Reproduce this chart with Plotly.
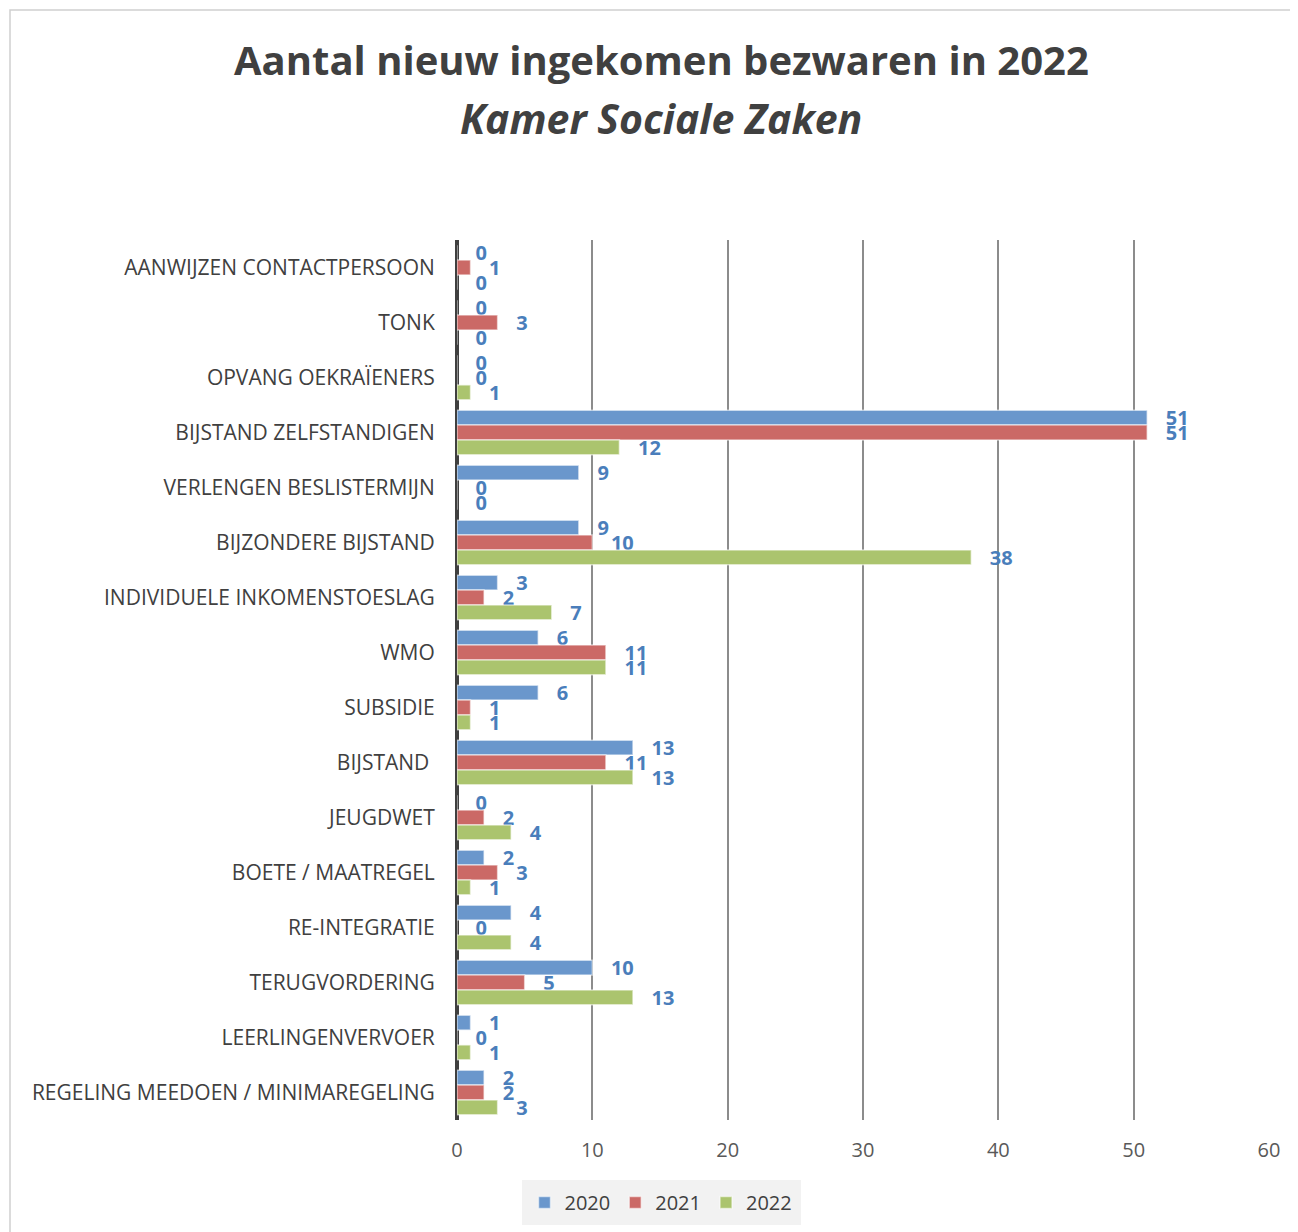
import plotly.graph_objects as go

categories = [
    "AANWIJZEN CONTACTPERSOON", "TONK", "OPVANG OEKRAÏENERS", "BIJSTAND ZELFSTANDIGEN",
    "VERLENGEN BESLISTERMIJN", "BIJZONDERE BIJSTAND", "INDIVIDUELE INKOMENSTOESLAG", "WMO",
    "SUBSIDIE", "BIJSTAND ", "JEUGDWET", "BOETE / MAATREGEL", "RE-INTEGRATIE",
    "TERUGVORDERING", "LEERLINGENVERVOER", "REGELING MEEDOEN / MINIMAREGELING",
]
v2020 = [0, 0, 0, 51, 9, 9, 3, 6, 6, 13, 0, 2, 4, 10, 1, 2]
v2021 = [1, 3, 0, 51, 0, 10, 2, 11, 1, 11, 2, 3, 0, 5, 0, 2]
v2022 = [0, 0, 1, 12, 0, 38, 7, 11, 1, 13, 4, 1, 4, 13, 1, 3]
years = ["2020", "2021", "2022"]
colors = ["#6A97CC", "#CB6966", "#ABC46E"]
x_ticks = [0, 10, 20, 30, 40, 50, 60]

OFF = 8  # page body margin
W, H = 1298 - OFF, 1232 - OFF
ML, MR, MT, MB = 457 - OFF, 29, 240 - OFF, 112
PW, PH = W - ML - MR, H - MT - MB

def px_x(p):
    return (p - OFF - ML) / PW

def px_y(p):
    return (H - MB - (p - OFF)) / PH

fig = go.Figure()
pad = "\u00a0\u00a0\u00a0"
for name, vals, col in zip(years, [v2020, v2021, v2022], colors):
    fig.add_trace(go.Bar(
        y=categories, x=vals, name=name, orientation="h",
        marker=dict(color=col, line=dict(color="rgba(255,255,255,0.55)", width=1.5)),
        text=[pad + str(v) for v in vals], textposition="outside",
        constraintext="none", cliponaxis=False,
        outsidetextfont=dict(family="Open Sans", size=20, color="#4A7EBB", weight="bold"),
    ))

fig.update_layout(
    width=W, height=H, barmode="group", bargap=0.19, bargroupgap=0,
    margin=dict(l=ML, r=MR, t=MT, b=MB, autoexpand=False),
    paper_bgcolor="white", plot_bgcolor="white",
    font=dict(family="Open Sans", color="#404040"),
    xaxis=dict(range=[0, 60], tickvals=x_ticks, showgrid=True, gridcolor="#8c8c8c", gridwidth=2,
               zeroline=True, zerolinecolor="#404040", zerolinewidth=4,
               ticks="outside", ticklen=12, tickcolor="rgba(0,0,0,0)", automargin=False,
               tickfont=dict(size=20, color="#595959"), showline=False),
    yaxis=dict(autorange="reversed", ticks="outside", ticklen=17, tickcolor="rgba(0,0,0,0)",
               automargin=False,
               tickfont=dict(size=21, color="#404040"), showgrid=False, showline=False),
    showlegend=True,
    legend=dict(orientation="h", x=px_x(661), xanchor="center", y=px_y(1180), yanchor="top",
                bgcolor="#f2f2f2", font=dict(size=20, color="#404040"),
                itemwidth=30, traceorder="normal", borderwidth=3, bordercolor="#f2f2f2"),
    shapes=[dict(type="rect", xref="paper", yref="paper",
                 x0=px_x(10), x1=px_x(1320), y0=px_y(1260), y1=px_y(10),
                 line=dict(color="#d0d0d0", width=1.5), fillcolor="rgba(0,0,0,0)", layer="below")],
    annotations=[
        dict(text="<b>Aantal nieuw ingekomen bezwaren in 2022</b>", xref="paper", yref="paper",
             x=px_x(661), y=px_y(59), xanchor="center", yanchor="middle", showarrow=False,
             font=dict(family="Open Sans", size=40, color="#404040")),
        dict(text="<b><i>Kamer Sociale Zaken</i></b>", xref="paper", yref="paper",
             x=px_x(661), y=px_y(118), xanchor="center", yanchor="middle", showarrow=False,
             font=dict(family="Open Sans", size=41, color="#404040")),
    ],
)

fig.write_html("out.html")
